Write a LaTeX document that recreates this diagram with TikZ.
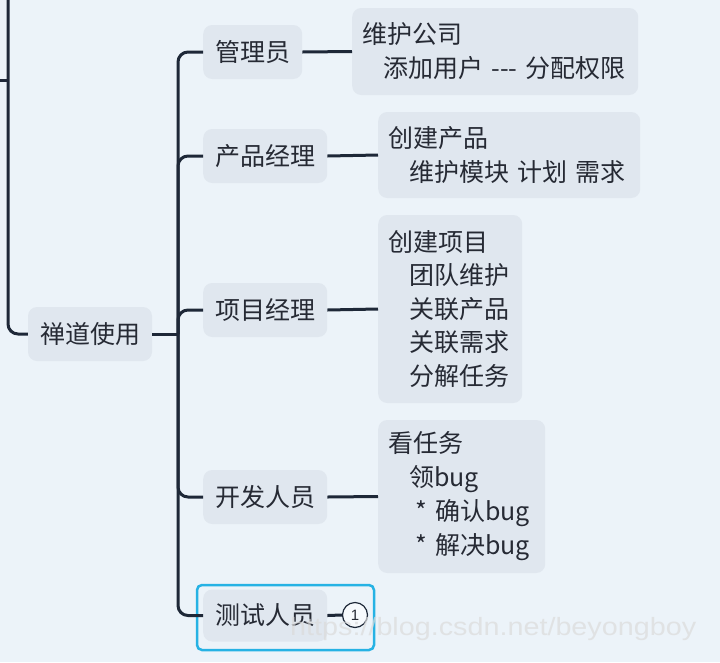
\documentclass[tikz,border=0pt]{standalone}
\usepackage{graphicx}
\usepackage{fontspec}
\setmainfont{Noto Sans CJK SC}
\newfontfamily\markfont{Liberation Sans}
\usetikzlibrary{positioning}
\definecolor{bgblue}{RGB}{236,243,249}
\definecolor{topicfill}{RGB}{224,231,239}
\definecolor{linenavy}{RGB}{30,40,56}
\definecolor{textgray}{RGB}{38,42,52}
\definecolor{selcyan}{RGB}{38,178,228}
\newcommand{\ind}{\hspace*{21pt}}
\begin{document}
\begin{tikzpicture}[x=1pt,y=-1pt]
  \tikzset{topic/.style = {fill=topicfill, rounded corners=9pt, inner xsep=12pt, minimum height=54pt,
                           text=textgray, font=\fontsize{25}{34}\selectfont},
           notebox/.style = {topic, anchor=west, align=left, inner xsep=10pt},
           branch/.style = {draw=linenavy, line width=3pt, rounded corners=10pt}}
  \useasboundingbox[fill=bgblue] (0,0) rectangle (720,662);
  % topics
  \node[topic] (root) at (90,334) {禅道使用};
  \node[topic, anchor=west] (admin) at (203,52) {管理员};
  \node[topic, anchor=west] (pm) at (203,156) {产品经理};
  \node[topic, anchor=west] (proj) at (203,310) {项目经理};
  \node[topic, anchor=west] (dev) at (203,497) {开发人员};
  \node[topic, anchor=west, minimum height=52pt] (qa) at (203,615.5) {测试人员};
  % notes
  \node[notebox, text width=266pt, minimum height=87pt] (adminnote) at (352,51.5)
    {维护公司\\ \ind 添加用户 -{}-{}- 分配权限};
  \node[notebox, text width=242pt, minimum height=86pt] (pmnote) at (378,155)
    {创建产品\\ \ind 维护模块 计划 需求};
  \node[notebox, text width=124pt, minimum height=188pt, font=\fontsize{25}{33.5}\selectfont] (projnote) at (378,309)
    {创建项目\\ \ind 团队维护\\ \ind 关联产品\\ \ind 关联需求\\ \ind 分解任务};
  \node[notebox, text width=147pt, minimum height=153pt] (devnote) at (378,496.5)
    {看任务\\ \ind 领bug\\ \hspace*{27pt}* 确认bug\\ \hspace*{27pt}* 解决bug};
  \node[circle, draw=linenavy, line width=1.2pt, fill=white!60!bgblue, inner sep=0pt, minimum size=25pt,
        text=textgray, font=\markfont\fontsize{15}{16}\selectfont] (qacount) at (355,615) {1};
  % selection frame
  \draw[selcyan, line width=2.5pt, rounded corners=5pt] (197,585) rectangle (374,650);
  % branches
  \coordinate (fork) at (178,334);
  \coordinate (up) at (8,-10);
  \coordinate (stub) at (0,80);
  \draw[branch] (up) |- (root.west);
  \draw[branch] (stub) -- (8,80);
  \draw[branch] (root.east) -- (fork);
  \foreach \t in {admin,pm,proj,dev,qa}
    \draw[branch] (fork) |- (\t.west);
  \draw[branch] (admin.east) -- (adminnote.west);
  \draw[branch] (pm.east) -- (pmnote.west);
  \draw[branch] (proj.east) -- (projnote.west);
  \draw[branch] (dev.east) -- (devnote.west);
  \draw[branch] (qa.east) -- (qacount.west);
  % watermark
  \node[anchor=west, inner sep=0pt, text=white!72!gray, opacity=0.7, font=\markfont\fontsize{25}{28}\selectfont] (mark) at (290,629)
    {\scalebox{1.15}[1]{https://blog.csdn.net/beyongboy}};
\end{tikzpicture}
\end{document}
